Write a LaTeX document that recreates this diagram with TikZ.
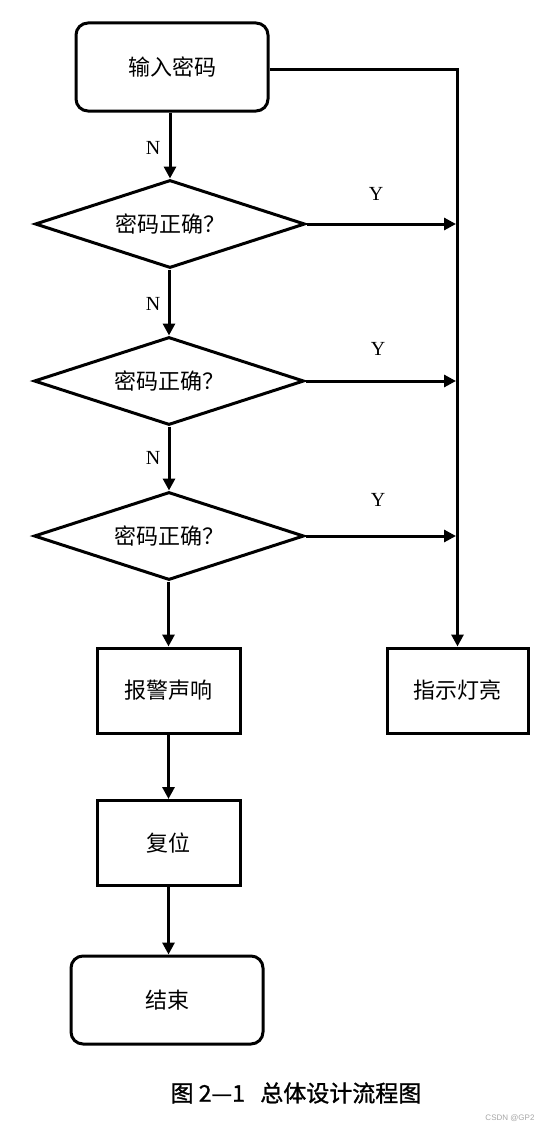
\documentclass[tikz,border=0pt]{standalone}
\usepackage{fontspec}
\setmainfont{Liberation Serif}
\newfontfamily\cjk{Noto Sans CJK SC}
\newfontfamily\cjkcap[FakeBold=1.2]{Noto Sans CJK SC}
\newfontfamily\wmfont{Liberation Sans}
\usetikzlibrary{shapes.geometric}
\usetikzlibrary{arrows.meta}

\begin{document}
\begin{tikzpicture}[x=1pt, y=-1pt,
		every node/.style={font=\cjk\fontsize{22}{26}\selectfont},
		term/.style={draw, line width=3pt, rounded corners=12pt, minimum width=192pt, minimum height=88pt},
		proc/.style={draw, line width=3pt, minimum width=143pt, minimum height=85pt},
		ask/.style={draw, diamond, line width=3pt, aspect=3, inner sep=0pt, minimum width=270pt, minimum height=88pt},
		yn/.style={font=\fontsize{20}{24}\selectfont},
		flow/.style={line width=3pt, -{Triangle[length=12pt,width=12pt]}}]
	\useasboundingbox (0,0) rectangle (545,1132);
		% boxes
		\node[term] (start) at (172,67) {输入密码};
		\node[ask] (q1) at (170,224) {密码正确？};
		\node[ask] (q2) at (169,381) {密码正确？};
		\node[ask] (q3) at (169,536) {密码正确？};
		\node[proc] (alarm) at (168.5,690.5) {报警声响};
		\node[proc] (reset) at (168.5,843) {复位};
		\node[term] (stop) at (167,1000) {结束};
		\node[proc, minimum width=141pt] (lamp) at (457.5,690.5) {指示灯亮};
		% N branch
		\draw[flow] (start.south -| q1) -- (q1.north);
		\draw[flow] (q1.south -| q2) -- (q2.north);
		\draw[flow] (q2.south) -- (q3.north);
		\draw[flow] (q3.south -| alarm) -- (alarm.north);
		\draw[flow] (alarm.south) -- (reset.north);
		\draw[flow] (reset.south) -- (stop.north -| reset);
		% Y branch
		\draw[flow] ([yshift=-3pt]start.east) -| (lamp.north);
		\draw[flow] (q1.east) -- ([xshift=-1.5pt]q1.east -| lamp.north);
		\draw[flow] (q2.east) -- ([xshift=-1.5pt]q2.east -| lamp.north);
		\draw[flow] (q3.east) -- ([xshift=-1.5pt]q3.east -| lamp.north);
		\node[yn] (n1) at (153,148) {N};
		\node[yn] (n2) at (153,304) {N};
		\node[yn] (n3) at (153,458) {N};
		\node[yn] (y1) at (376,194) {Y};
		\node[yn] (y2) at (378,349) {Y};
		\node[yn] (y3) at (378,500) {Y};
		% caption
		\node[font=\cjkcap\fontsize{23}{27}\selectfont] (cap) at (296,1093) {图 2—1\ \ \ 总体设计流程图};
		\node[font=\wmfont\fontsize{8}{10}\selectfont, text=gray!70] (mark) at (510,1118) {CSDN @GP2};
	\end{tikzpicture}
\end{document}
